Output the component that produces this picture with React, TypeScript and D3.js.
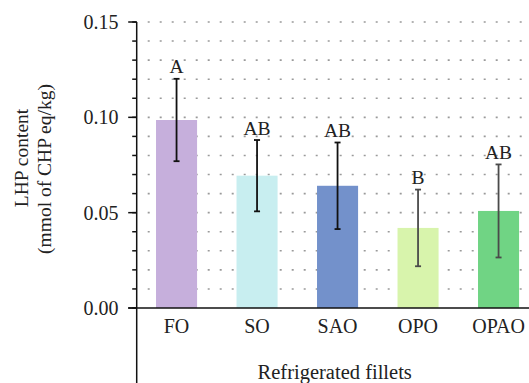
import React from "react";
import * as d3 from "d3";

const categories = ["FO", "SO", "SAO", "OPO", "OPAO"];
const means = [0.0986, 0.0694, 0.0641, 0.042, 0.0509];
const errors = [0.0216, 0.0187, 0.0227, 0.0201, 0.0244];
const letters = ["A", "AB", "AB", "B", "AB"];
const barColors = ["#C6AFDC", "#C8EEF0", "#7391CB", "#D8F4AC", "#70D484"];
const errColors = ["#111", "#111", "#111", "#4a4a4a", "#4a4a4a"];
const majorTicks = [0, 0.05, 0.1, 0.15];
const minorTicks = d3.range(0, 16).map((i) => i / 100);

const W = 529;
const H = 383;
const FONT = "'Liberation Serif', 'Times New Roman', serif";

export default function App() {
  const axisX = 136.7;
  const y = d3.scaleLinear().domain([0, 0.15]).range([308, 22]);
  const x = d3
    .scaleBand<string>()
    .domain(categories)
    .range([axisX, 538.4])
    .paddingInner(0.49)
    .paddingOuter(0.24);

  return (
    <svg
      width={W}
      height={H}
      style={{ position: "absolute", left: 0, top: 0, background: "#fff" }}
      fontFamily={FONT}
    >
      {/* dotted grid */}
      {minorTicks.slice(1).map((t) => (
        <line
          key={"g" + t}
          x1={147.7}
          x2={W}
          y1={y(t)}
          y2={y(t)}
          stroke="#9a9a9a"
          strokeWidth={1.6}
          strokeDasharray="2 10"
        />
      ))}
      {/* bars */}
      {categories.map((c, i) => (
        <rect
          key={"b" + c}
          x={x(c)}
          width={x.bandwidth()}
          y={y(means[i])}
          height={y(0) - y(means[i])}
          fill={barColors[i]}
        />
      ))}
      {/* error bars */}
      {categories.map((c, i) => {
        const cx = (x(c) as number) + x.bandwidth() / 2;
        const top = y(means[i] + errors[i]);
        const bot = y(means[i] - errors[i]);
        return (
          <g key={"e" + c} stroke={errColors[i]} strokeWidth={1.8}>
            <line x1={cx} x2={cx} y1={top} y2={bot} />
            <line x1={cx - 3} x2={cx + 3} y1={top} y2={top} />
            <line x1={cx - 3} x2={cx + 3} y1={bot} y2={bot} />
          </g>
        );
      })}
      {/* letters */}
      {categories.map((c, i) => (
        <text
          key={"l" + c}
          x={(x(c) as number) + x.bandwidth() / 2}
          y={y(means[i] + errors[i]) - 5.5}
          textAnchor="middle"
          fontSize={19.5}
          fill="#222"
        >
          {letters[i]}
        </text>
      ))}
      {/* y axis */}
      <line x1={axisX} x2={axisX} y1={y(0.15)} y2={H} stroke="#111" strokeWidth={1.5} />
      {minorTicks.map((t) => (
        <line
          key={"mt" + t}
          x1={axisX - 4.5}
          x2={axisX}
          y1={y(t)}
          y2={y(t)}
          stroke="#111"
          strokeWidth={1.5}
        />
      ))}
      {majorTicks.map((t) => (
        <g key={"t" + t}>
          <line x1={axisX - 8.5} x2={axisX} y1={y(t)} y2={y(t)} stroke="#111" strokeWidth={1.5} />
          <text x={118.5} y={y(t)} dy="0.35em" textAnchor="end" fontSize={20} fill="#222">
            {d3.format(".2f")(t)}
          </text>
        </g>
      ))}
      {/* x axis */}
      <line x1={axisX - 8.5} x2={W} y1={y(0)} y2={y(0)} stroke="#111" strokeWidth={1.5} />
      {categories.map((c) => (
        <text
          key={"c" + c}
          x={(x(c) as number) + x.bandwidth() / 2}
          y={333.3}
          textAnchor="middle"
          fontSize={20}
          fill="#222"
        >
          {c}
        </text>
      ))}
      <text x={334.7} y={378.5} textAnchor="middle" fontSize={20.5} fill="#222">
        Refrigerated fillets
      </text>
      {/* y label */}
      <text transform="translate(27.5,158) rotate(-90)" textAnchor="middle" fontSize={19.5} fill="#222">
        LHP content
      </text>
      <text transform="translate(51,169) rotate(-90)" textAnchor="middle" fontSize={19.5} fill="#222">
        (mmol of CHP eq/kg)
      </text>
    </svg>
  );
}
